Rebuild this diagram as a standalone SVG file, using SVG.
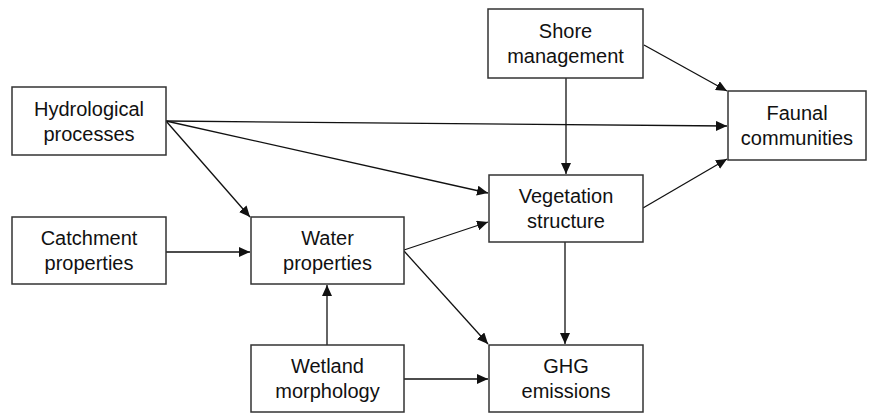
<svg xmlns="http://www.w3.org/2000/svg" width="869" height="414" viewBox="0 0 869 414">
<style>
.box{fill:#fff;stroke:#333;stroke-width:1.5}
.lbl{font-family:"Liberation Sans",Arial,sans-serif;font-size:20px;fill:#111;text-anchor:middle}
.edge{stroke:#111;stroke-width:1.3;fill:none;marker-end:url(#ah)}
</style>
<defs>
<marker id="ah" markerUnits="userSpaceOnUse" markerWidth="12" markerHeight="10" refX="11" refY="5" orient="auto">
<path d="M0,0 L11,5 L0,10 z" fill="#111"/>
</marker>
</defs>
<rect width="869" height="414" fill="#fff"/>
<g id="edges">
<line class="edge" x1="166" y1="121" x2="727" y2="126"/>
<line class="edge" x1="166" y1="121" x2="488" y2="193"/>
<line class="edge" x1="166" y1="121" x2="250" y2="217"/>
<line class="edge" x1="166" y1="252" x2="250" y2="252"/>
<line class="edge" x1="404" y1="250" x2="488" y2="222"/>
<line class="edge" x1="404" y1="251" x2="488" y2="344"/>
<line class="edge" x1="327" y1="345" x2="327" y2="285"/>
<line class="edge" x1="404" y1="379" x2="488" y2="379"/>
<line class="edge" x1="565" y1="242" x2="565" y2="344"/>
<line class="edge" x1="566" y1="78" x2="566" y2="174"/>
<line class="edge" x1="644" y1="45" x2="727" y2="91"/>
<line class="edge" x1="643" y1="208" x2="727" y2="159"/>
</g>
<g id="hydro">
<rect class="box" x="12" y="87" width="154" height="68"/>
<text class="lbl" x="89" y="116">Hydrological</text>
<text class="lbl" x="89" y="141">processes</text>
</g>
<g id="catchment">
<rect class="box" x="12" y="217" width="154" height="67"/>
<text class="lbl" x="89" y="245">Catchment</text>
<text class="lbl" x="89" y="270">properties</text>
</g>
<g id="water">
<rect class="box" x="251" y="217" width="153" height="67"/>
<text class="lbl" x="327.5" y="245">Water</text>
<text class="lbl" x="327.5" y="270">properties</text>
</g>
<g id="wetland">
<rect class="box" x="251" y="345" width="153" height="67"/>
<text class="lbl" x="327.5" y="373">Wetland</text>
<text class="lbl" x="327.5" y="398">morphology</text>
</g>
<g id="shore">
<rect class="box" x="488" y="9" width="155" height="69"/>
<text class="lbl" x="565.5" y="38">Shore</text>
<text class="lbl" x="565.5" y="63">management</text>
</g>
<g id="vegetation">
<rect class="box" x="489" y="175" width="154" height="67"/>
<text class="lbl" x="566" y="203">Vegetation</text>
<text class="lbl" x="566" y="228">structure</text>
</g>
<g id="ghg">
<rect class="box" x="489" y="345" width="154" height="67"/>
<text class="lbl" x="566" y="373">GHG</text>
<text class="lbl" x="566" y="398">emissions</text>
</g>
<g id="faunal">
<rect class="box" x="728" y="91" width="138" height="69"/>
<text class="lbl" x="797" y="120">Faunal</text>
<text class="lbl" x="797" y="145">communities</text>
</g>
</svg>
